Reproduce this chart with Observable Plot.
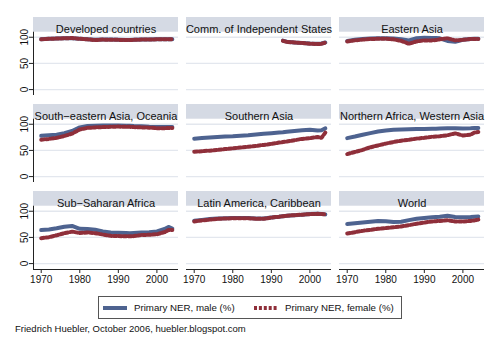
<!DOCTYPE html>
<html>
<head>
<meta charset="utf-8">
<script src="https://cdn.jsdelivr.net/npm/d3@7"></script>
<script src="https://cdn.jsdelivr.net/npm/@observablehq/plot@0.6"></script>
<style>
  html, body { margin: 0; padding: 0; background: #fff; }
  #wrap { position: relative; width: 500px; height: 350px; font-family: "Liberation Sans", Arial, sans-serif; color: #111; }
  #chart { position: absolute; left: 0; top: 0; }
  #legend { position: absolute; left: 98px; top: 296px; width: 302px; height: 21px; border: 1px solid #555; font-size: 9.7px; }
  #legend .item { display: flex; align-items: center; position: absolute; top: 5px; }
  #legend svg { display: block; }
  #caption { position: absolute; left: 15px; top: 323px; font-size: 9.5px; }
</style>
</head>
<body>
<div id="wrap">
  <div id="chart"></div>
  <div id="legend"></div>
  <div id="caption">Friedrich Huebler, October 2006, huebler.blogspot.com</div>
</div>
<script>
// ---- Data (Primary net enrolment ratio, %) ----
const regions = [
  "Developed countries", "Comm. of Independent States", "Eastern Asia",
  "South\u2212eastern Asia, Oceania", "Southern Asia", "Northern Africa, Western Asia",
  "Sub\u2212Saharan Africa", "Latin America, Caribbean", "World"
];
const years = [1970,1972,1974,1976,1978,1980,1982,1984,1986,1988,1990,1992,1993,1994,1996,1998,2000,2002,2003,2004];

const devMale   = [96,97,97.5,98,98,97,96,95,95.5,95.5,95,94.5,94.5,95,95.5,95.5,96,96,96,96];
const devFemale = [96,97,97.5,98,98.5,97,96,94.5,95.5,95,95,94.5,94.5,95,95.5,95.5,96,96,96,96];
const cisMale   = [null,null,null,null,null,null,null,null,null,null,null,null,93.5,91.5,90,89,88,87.5,88,90];
const cisFemale = [null,null,null,null,null,null,null,null,null,null,null,null,93,91,90,89,87.5,87,87.5,89.5];
const eaMale    = [93,95,96.5,97.5,98,98,97.5,96,94,98,99,98.5,98.5,98,93,91.5,95,96.5,97,97];
const eaFemale  = [92,94,95.5,96.5,97,97,96,93,87.5,92,94,94,94.5,96,98,94,95,96.5,96.5,96.5];
const seaMale   = [78,79,80,83,87,94,96.5,97,97.5,97.5,97.5,97,97,96.5,96,95,94.5,94.5,94.5,94.5];
const seaFemale = [70.5,72,74,77.5,82,90,93,94,94.5,95,95.5,95,95,94.5,94,93.5,92.5,92.5,93,93];
const saMale    = [72.5,73.5,74.5,75.5,76.5,77,78,79,80.5,82,83,84,84.5,85.5,87,88.5,89.5,88,88.5,92];
const saFemale  = [47.5,48.5,49.5,51,52.5,54,55.5,57,58.5,60.5,62.5,65,66,67,69.5,72,73.5,75.5,74,84];
const nawMale   = [73.5,76.5,80,83,86,88,89.5,90,90.5,91,91,91.5,91.5,92,92.5,92.5,92,92.5,93,93];
const nawFemale = [43,47,51,56,59.5,63,66,68.5,70.5,72.5,74,76,76.5,77,79,82.5,78.5,80,84,85];
const ssaMale   = [64,65,67.5,70.5,72,66.5,66,64.5,61.5,59.5,59,58.5,58,58.5,59.5,60,61.5,66,70,67];
const ssaFemale = [48.5,50.5,54,58,61,58.5,59.5,58,55.5,53,52.5,52,52,52.5,54.5,55,56,60,64,64];
const lacMale   = [82,83.5,85,86,86.5,87,87,87,86,86,88,89.5,90.5,91.5,92.5,93.5,94.5,95,94.5,94];
const lacFemale = [80.5,82.5,84,85.5,86,86.5,86.5,86.5,85.5,85.5,88,89.5,90.5,91.5,92.5,93.5,94.5,95,94.5,94];
const wldMale   = [75.5,77,78.5,80,81.5,81,79.5,80,83,85.5,87,88.5,89,89.5,91.5,89,88.5,89,89.5,90];
const wldFemale = [57.5,60,62.5,64.5,66.5,68,69.5,71,73.5,76,78.5,80.5,81,81.5,83,80.5,80.5,81.5,82.5,84];

const yTicks = [0, 50, 100];
const xTicks = [1970, 1980, 1990, 2000];
const seriesNames = ["Primary NER, male (%)", "Primary NER, female (%)"];

// ---- Build tables ----
const maleSeries = [devMale, cisMale, eaMale, seaMale, saMale, nawMale, ssaMale, lacMale, wldMale];
const femaleSeries = [devFemale, cisFemale, eaFemale, seaFemale, saFemale, nawFemale, ssaFemale, lacFemale, wldFemale];
const panels = regions.map((name, i) => ({name, col: i % 3, row: Math.floor(i / 3)}));
const rows = [];
panels.forEach((p, i) => {
  years.forEach((yr, j) => {
    rows.push({region: p.name, col: p.col, row: p.row, year: yr, male: maleSeries[i][j], female: femaleSeries[i][j]});
  });
});
const gridRows = panels.flatMap(p => yTicks.map(v => ({...p, v})));
const leftPanels = panels.filter(p => p.col === 0);
const yLabelRows = leftPanels.flatMap(p => yTicks.map(v => ({...p, v, label: String(v)})));

const X0 = 1968, X1 = 2005.6;     // x domain
const Y0 = -11.3, Y1 = 137.7;     // y domain (strip lives above YS)
const YS = 109.6;
const TICK_YEARS = 1.05;          // y-axis tick length expressed in x units (~4px)

const MALE = "#4e6390", FEMALE = "#8f2f3a", STRIP = "#d5dae4", GRID = "#e3e7ee";
const FONT = "'Liberation Sans', Arial, sans-serif";
const DASH = "3,1.9";

const chart = Plot.plot({
  width: 500, height: 292,
  marginTop: 16, marginLeft: 33, marginRight: 16, marginBottom: 21,
  style: {fontFamily: FONT, fontSize: "10px", color: "#111", background: "transparent"},
  x: {domain: [X0, X1], axis: null},
  y: {domain: [Y0, Y1], axis: null},
  fx: {domain: [0, 1, 2], paddingInner: 0.055, paddingOuter: 0, axis: null},
  fy: {domain: [0, 1, 2], paddingInner: 0.102, paddingOuter: 0, axis: null},
  marks: [
    Plot.ruleY(gridRows, {y: "v", fx: "col", fy: "row", stroke: GRID, strokeWidth: 1.3}),
    Plot.rect(panels, {x1: () => X0, x2: () => X1, y1: () => YS, y2: () => Y1, fx: "col", fy: "row", fill: STRIP}),
    Plot.text(panels, {text: "name", fx: "col", fy: "row", frameAnchor: "top", dy: 8, fontSize: 11, fill: "#111"}),
    Plot.ruleX(leftPanels, {x: () => X0, y1: () => Y0, y2: () => YS, fx: "col", fy: "row", stroke: "#222"}),
    Plot.ruleY(panels.filter(p => p.row === 2), {y: () => Y0, fx: "col", fy: "row", stroke: "#222"}),
    Plot.ruleY(yLabelRows, {y: "v", x1: () => X0 - TICK_YEARS, x2: () => X0, fx: "col", fy: "row", stroke: "#222"}),
    Plot.text(yLabelRows, {x: () => X0, y: "v", fx: "col", fy: "row", text: "label", rotate: -90, dx: -6, textAnchor: "middle", lineAnchor: "bottom", fontSize: 10, fill: "#111"}),
    Plot.axisX({ticks: xTicks, tickFormat: "d", tickSize: 4, tickPadding: 2, label: null, fontSize: 10, stroke: "#222", fill: "#111"}),
    Plot.line(rows, {x: "year", y: "male", fx: "col", fy: "row", z: "region", stroke: MALE, strokeWidth: 4, strokeLinejoin: "round"}),
    Plot.line(rows, {x: "year", y: "female", fx: "col", fy: "row", z: "region", stroke: FEMALE, strokeWidth: 4, strokeDasharray: DASH})
  ]
});
document.getElementById("chart").appendChild(chart);

// ---- Legend ----
const legend = document.getElementById("legend");
const swatches = [
  `<svg width="24" height="6"><line x1="0" x2="24" y1="3" y2="3" stroke="${MALE}" stroke-width="4"/></svg>`,
  `<svg width="24" height="6"><line x1="0" x2="24" y1="3" y2="3" stroke="${FEMALE}" stroke-width="4" stroke-dasharray="${DASH}"/></svg>`
];
const lefts = [4, 155];
seriesNames.forEach((name, i) => {
  const it = document.createElement("div");
  it.className = "item";
  it.style.left = lefts[i] + "px";
  it.innerHTML = swatches[i] + `<span style="margin-left:7px">${name}</span>`;
  legend.appendChild(it);
});
</script>
</body>
</html>
